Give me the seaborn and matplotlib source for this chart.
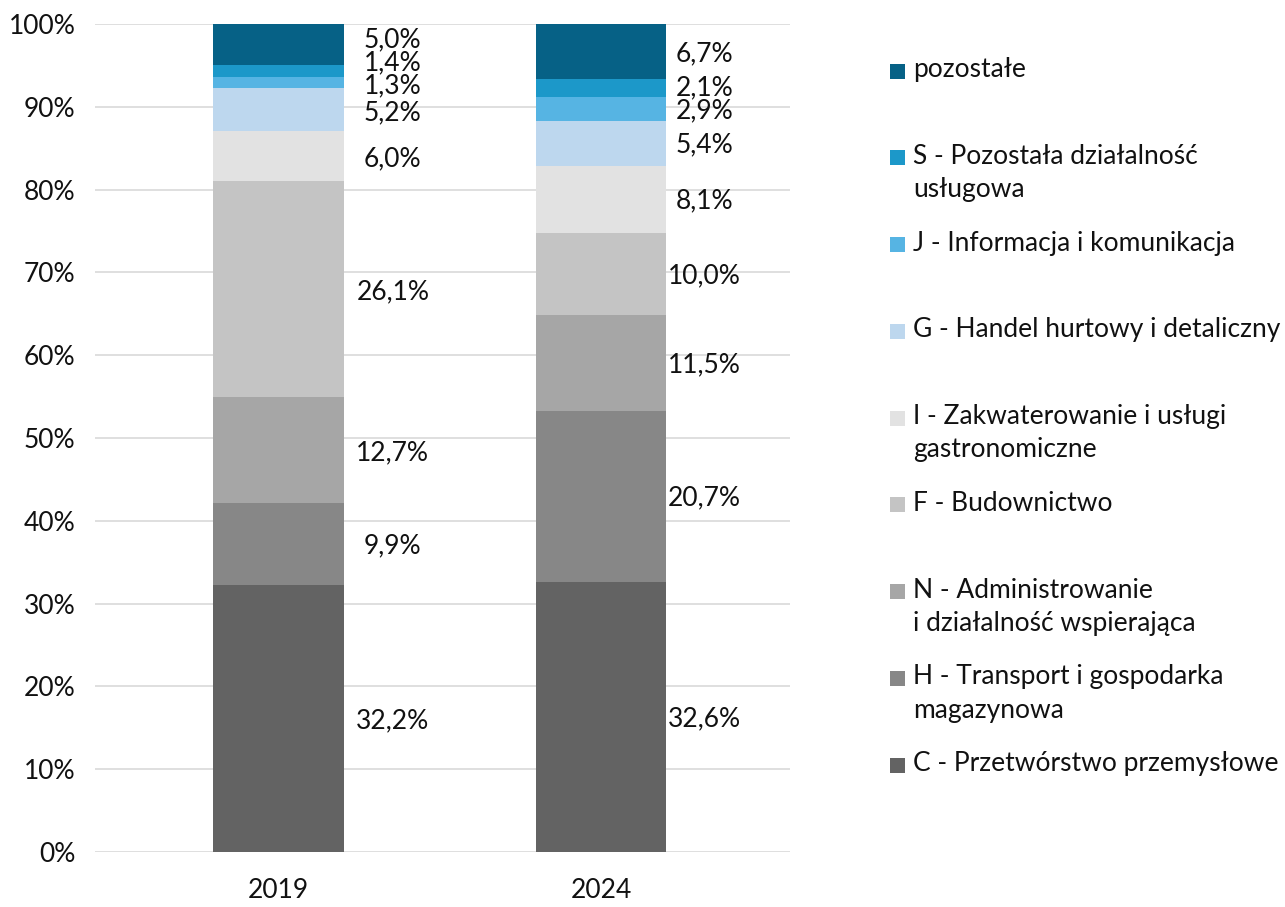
import numpy as np
import pandas as pd
import matplotlib
matplotlib.use("Agg")
import matplotlib.pyplot as plt
from matplotlib.patches import Rectangle
import seaborn as sns

years = ["2019", "2024"]
sections = [
    "C - Przetwórstwo przemysłowe",
    "H - Transport i gospodarka\nmagazynowa",
    "N - Administrowanie\ni działalność wspierająca",
    "F - Budownictwo",
    "I - Zakwaterowanie i usługi\ngastronomiczne",
    "G - Handel hurtowy i detaliczny",
    "J - Informacja i komunikacja",
    "S - Pozostała działalność\nusługowa",
    "pozostałe",
]
share_2019 = [32.2, 9.9, 12.7, 26.1, 6.0, 5.2, 1.3, 1.4, 5.0]
share_2024 = [32.6, 20.7, 11.5, 10.0, 8.1, 5.4, 2.9, 2.1, 6.7]
colors = ["#636363", "#878787", "#a6a6a6", "#c4c4c4", "#e2e2e2",
          "#bdd7ee", "#56b4e3", "#1c98c9", "#066186"]

FS = 19
sns.set_theme(style="white")
plt.rcParams["font.family"] = ["Lato", "DejaVu Sans"]

fig = plt.figure(figsize=(12.85, 9.07), dpi=100)
ax = fig.add_axes([95 / 1285, 55 / 907, 695 / 1285, 828 / 907])

# 100% stacked: normalise each year to its total
tot = np.array([sum(share_2019), sum(share_2024)])
df = pd.DataFrame({"year": years})
bottoms = np.zeros(len(years))
for i, sec in enumerate(sections):
    vals = np.array([share_2019[i], share_2024[i]]) / tot * 100
    d = df.assign(val=vals)
    sns.barplot(data=d, x="year", y="val", color=colors[i], width=0.405,
                bottom=bottoms.copy(), ax=ax, saturation=1, edgecolor="none",
                linewidth=0, errorbar=None, zorder=3)
    bottoms = bottoms + vals

# labels with simple overlap avoidance (bottom-up)
gap = 2.8
label_dx = [0.355, 0.32]
for j, data in enumerate([share_2019, share_2024]):
    cum = np.cumsum(data)
    prev = -100
    for i, v in enumerate(data):
        mid = cum[i] - v / 2
        y = max(mid, prev + gap)
        prev = y
        ax.text(j + label_dx[j], y - 0.2, f"{v:.1f}".replace(".", ",") + "%",
                ha="center", va="center", fontsize=FS, color="#111111")

ax.set_ylim(0, 100)
ax.set_xlim(-0.567, 1.585)
ax.set_yticks(np.arange(0, 101, 10))
ax.set_yticklabels([f"{t}%" for t in range(0, 101, 10)])
ax.yaxis.grid(True, color="#d9d9d9", linewidth=1.2, zorder=0)
ax.set_axisbelow(True)
for s in ax.spines.values():
    s.set_visible(False)
ax.set_xlabel("")
ax.set_ylabel("")
ax.tick_params(axis="y", labelsize=FS, pad=14, length=0, colors="#111111")
ax.tick_params(axis="x", labelsize=FS, pad=19, length=0, colors="#111111")

# legend (reverse order, Excel-style uniform spacing)
x_box = 890 / 1285
x_txt = 913 / 1285
box = 15
for k, i in enumerate(range(len(sections) - 1, -1, -1)):
    y_line = 71 + k * 86.75
    fig.patches.append(Rectangle((x_box, 1 - (y_line + box / 2) / 907), box / 1285, box / 907,
                                 transform=fig.transFigure, facecolor=colors[i],
                                 edgecolor="none"))
    fig.text(x_txt, 1 - (y_line - 14) / 907, sections[i], ha="left", va="top",
             fontsize=FS, color="#111111", linespacing=1.42)

fig.savefig("out.png", dpi=100)
